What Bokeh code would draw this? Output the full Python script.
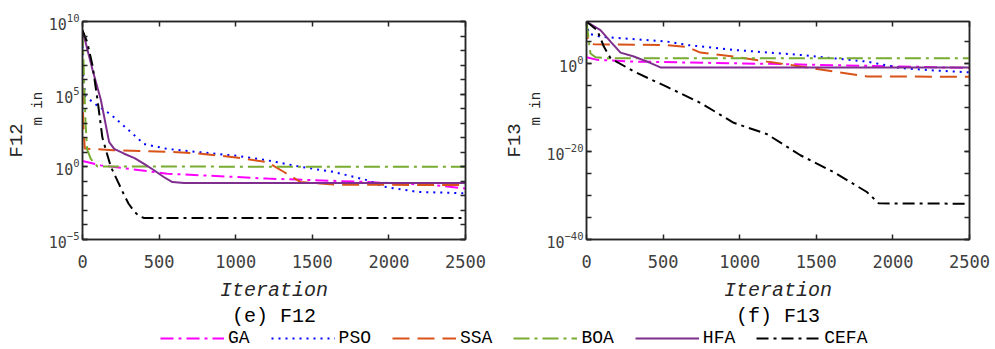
from bokeh.plotting import figure
from bokeh.models import (LogAxis, LinearAxis, FixedTicker, Range1d, Title,
                          Legend, LegendItem, CustomJSTickFormatter)
from bokeh.layouts import column, row
from bokeh.embed import file_html
from bokeh.resources import INLINE

# ---------------- data ----------------
algos = ["GA", "PSO", "SSA", "BOA", "HFA", "CEFA"]

# F12 panel (e)
f12_ga_it = [0, 120, 554, 1207, 1859, 2293, 2500]
f12_ga_val = [2.5, 1.26, 0.34, 0.155, 0.09, 0.055, 0.032]
f12_pso_it = [0, 5, 20, 98, 185, 293, 402, 554, 772, 989, 1207, 1424, 1641, 1859, 1967, 2185, 2500]
f12_pso_val = [2e8, 1e6, 7e4, 1.6e4, 4e3, 400, 37, 17, 10, 6, 2.8, 1.0, 0.44, 0.12, 0.043, 0.019, 0.015]
f12_ssa_it = [0, 5, 15, 200, 554, 772, 989, 1207, 1315, 1424, 1641, 2500]
f12_ssa_val = [3e5, 1e3, 18, 14, 11, 8, 4.6, 2.1, 0.44, 0.09, 0.06, 0.055]
f12_boa_it = [0, 10, 20, 30, 54, 98, 2500]
f12_boa_val = [2.5e9, 1e6, 1e3, 16, 3.5, 1.05, 1.0]
f12_hfa_it = [0, 65, 120, 174, 207, 272, 340, 402, 467, 530, 587, 663, 2500]
f12_hfa_val = [2.5e9, 5e6, 4e4, 50, 17, 8, 4, 1.6, 0.58, 0.2, 0.09, 0.076, 0.076]
f12_cefa_it = [0, 30, 65, 98, 130, 160, 185, 230, 261, 300, 337, 370, 402, 2500]
f12_cefa_val = [2.5e9, 4e8, 1e7, 4e4, 100, 8, 1, 0.1, 0.02, 3e-3, 8.5e-4, 4e-4, 3e-4, 3e-4]

# F13 panel (f)
f13_ga_it = [0, 70, 309, 1178, 2048, 2500]
f13_ga_val = [22, 5.6, 2.3, 0.7, 0.18, 0.08]
f13_pso_it = [0, 15, 91, 526, 657, 961, 1396, 1613, 1830, 2048, 2265, 2500]
f13_pso_val = [2e9, 5e6, 1e6, 8e4, 1.3e4, 1e3, 74, 12.6, 2.3, 0.08, 0.023, 8e-3]
f13_ssa_it = [0, 9, 48, 526, 657, 743, 961, 1178, 1396, 1613, 1830, 2500]
f13_ssa_val = [2e9, 8e4, 2e4, 1.26e4, 5e3, 250, 32, 2.3, 0.18, 0.013, 1e-3, 8e-4]
f13_boa_it = [0, 15, 26, 59, 135, 2500]
f13_boa_val = [3e9, 1e5, 160, 22, 12.6, 12.6]
f13_hfa_it = [0, 91, 157, 222, 309, 396, 483, 2500]
f13_hfa_val = [2.5e9, 3e7, 8e4, 250, 32, 2.3, 0.107, 0.107]
f13_cefa_it = [0, 70, 113, 157, 309, 526, 743, 961, 1178, 1396, 1613, 1830, 1907, 2500]
f13_cefa_val = [2.5e9, 3e7, 6e3, 12.6, 1.3e-2, 4e-6, 1e-9, 3e-14, 8e-17, 1.3e-21, 2e-25, 6e-30, 1.6e-32, 1.3e-32]

x_ticks = [0, 500, 1000, 1500, 2000, 2500]
f12_major = [1e-5, 1e0, 1e5, 1e10]
f12_minor = [10.0 ** k for k in range(-5, 11)]
f13_major = [1e-40, 1e-20, 1e0]
f13_minor = [10.0 ** k for k in range(-40, 10, 5)]

f12_series = {"GA": (f12_ga_it, f12_ga_val), "PSO": (f12_pso_it, f12_pso_val),
              "SSA": (f12_ssa_it, f12_ssa_val), "BOA": (f12_boa_it, f12_boa_val),
              "HFA": (f12_hfa_it, f12_hfa_val), "CEFA": (f12_cefa_it, f12_cefa_val)}
f13_series = {"GA": (f13_ga_it, f13_ga_val), "PSO": (f13_pso_it, f13_pso_val),
              "SSA": (f13_ssa_it, f13_ssa_val), "BOA": (f13_boa_it, f13_boa_val),
              "HFA": (f13_hfa_it, f13_hfa_val), "CEFA": (f13_cefa_it, f13_cefa_val)}

# ---------------- styles ----------------
colors = {"GA": "#FF00FF", "PSO": "#0000FF", "SSA": "#D95319",
          "BOA": "#77AC30", "HFA": "#7E2F8E", "CEFA": "#000000"}
dashes = {"GA": "13 5 3 5", "PSO": "2 5", "SSA": "17 8",
          "BOA": "16 5 3 5", "HFA": "solid", "CEFA": "12 5 3 5"}
widths = {"GA": 2, "PSO": 2, "SSA": 2, "BOA": 2, "HFA": 2, "CEFA": 2}

AX = "#262626"
TICKFONT = "DejaVu Sans Mono"
MONO = "Liberation Mono"
blank = CustomJSTickFormatter(code="return ''")

PH = 329       # panel figure height
LH = 349 - PH  # legend strip height


def make_panel(series, caption, yr, major, minor, width, bl, br, ylab):
    p = figure(width=width, height=PH, x_range=Range1d(0, 2500), y_range=Range1d(*yr),
               y_axis_type="log", output_backend="svg", toolbar_location=None,
               min_border_left=bl, min_border_right=br, min_border_top=21,
               min_border_bottom=PH - 242, title=caption, title_location="below")
    p.grid.visible = False
    p.outline_line_color = AX
    p.outline_line_width = 1.5
    p.background_fill_color = "white"
    p.title.align = "center"
    p.title.vertical_align = "top"
    p.title.text_font = MONO
    p.title.text_font_size = "20px"
    p.title.text_font_style = "normal"
    p.title.text_color = "black"
    p.title.standoff = 0

    for a in algos:
        xs, ys = series[a]
        p.line(xs, ys, line_color=colors[a], line_width=widths[a], line_dash=dashes[a])

    xa = p.xaxis[0]
    xa.ticker = FixedTicker(ticks=x_ticks)
    xa.major_tick_in = 5
    xa.major_tick_out = 0
    xa.minor_tick_line_color = None
    xa.axis_line_color = AX
    xa.axis_line_width = 1.5
    xa.major_tick_line_color = AX
    xa.major_tick_line_width = 1.5
    xa.major_label_text_font = TICKFONT
    xa.major_label_text_font_size = "17px"
    xa.major_label_text_color = "#404040"
    xa.major_label_standoff = 15
    xa.axis_label = "Iteration"
    xa.axis_label_text_font = MONO
    xa.axis_label_text_font_style = "italic"
    xa.axis_label_text_font_size = "20px"
    xa.axis_label_text_color = AX
    xa.axis_label_standoff = 8

    ya = p.yaxis[0]
    ya.ticker = FixedTicker(ticks=major, minor_ticks=minor)
    ya.major_tick_in = 5
    ya.major_tick_out = 0
    ya.minor_tick_in = 5
    ya.minor_tick_out = 0
    ya.axis_line_color = AX
    ya.axis_line_width = 1.5
    ya.major_tick_line_color = AX
    ya.minor_tick_line_color = AX
    ya.major_tick_line_width = 1.5
    ya.minor_tick_line_width = 1.5
    ya.major_label_text_font = TICKFONT
    ya.major_label_text_font_size = "15px"
    ya.major_label_text_color = "#404040"
    ya.major_label_standoff = 3

    ra = LogAxis(ticker=FixedTicker(ticks=major, minor_ticks=minor), formatter=blank,
                 major_tick_in=5, major_tick_out=0, minor_tick_in=5, minor_tick_out=0,
                 axis_line_color=AX, axis_line_width=1.5,
                 major_tick_line_color=AX, minor_tick_line_color=AX,
                 major_tick_line_width=1.5, minor_tick_line_width=1.5, major_label_standoff=0)
    p.add_layout(ra, "right")
    ta = LinearAxis(ticker=FixedTicker(ticks=x_ticks), formatter=blank,
                    major_tick_in=5, major_tick_out=0,
                    minor_tick_line_color=None,
                    axis_line_color=AX, axis_line_width=1.5, major_tick_line_color=AX,
                    major_tick_line_width=1.5, major_label_standoff=0)
    p.add_layout(ta, "above")

    # y-axis label  F12_{m in}  (subscript closer to the axis, further along)
    sub = Title(text="m in", align="left", offset=114, standoff=0,
                text_font=MONO, text_font_size="14px", text_font_style="normal",
                text_color=AX)
    p.add_layout(sub, "left")
    main = Title(text=ylab, align="left", offset=82, standoff=0,
                 text_font=MONO, text_font_size="19px", text_font_style="normal",
                 text_color=AX)
    p.add_layout(main, "left")
    return p


p1 = make_panel(f12_series, "(e) F12", (1e-5, 1e10), f12_major, f12_minor,
                500, 82, 35, "F12")
p2 = make_panel(f13_series, "(f) F13", (1e-40, 10 ** 9.45), f13_major, f13_minor,
                495, 86, 26, "F13")

# ---------------- legend strip ----------------
leg = figure(width=995, height=LH, output_backend="svg", toolbar_location=None,
             min_border=0, x_range=Range1d(0, 1), y_range=Range1d(0, 1),
             x_axis_location=None, y_axis_location=None)
leg.grid.visible = False
leg.outline_line_color = None
items = []
for a in algos:
    r = leg.line(x=[-5, -4], y=[-5, -4], line_color=colors[a], line_width=widths[a],
                 line_dash=dashes[a])
    items.append(LegendItem(label=a, renderers=[r]))
legend = Legend(items=items, orientation="horizontal", location=(160, 1),
                glyph_width=64, glyph_height=18, label_standoff=4, spacing=21,
                padding=0, margin=0, border_line_color=None, background_fill_alpha=0,
                label_height=18,
                label_text_font=MONO, label_text_font_size="18px", label_text_color="black")
leg.add_layout(legend)

layout = column(row(p1, p2), leg)
open("out.html", "w").write(file_html(layout, INLINE))
